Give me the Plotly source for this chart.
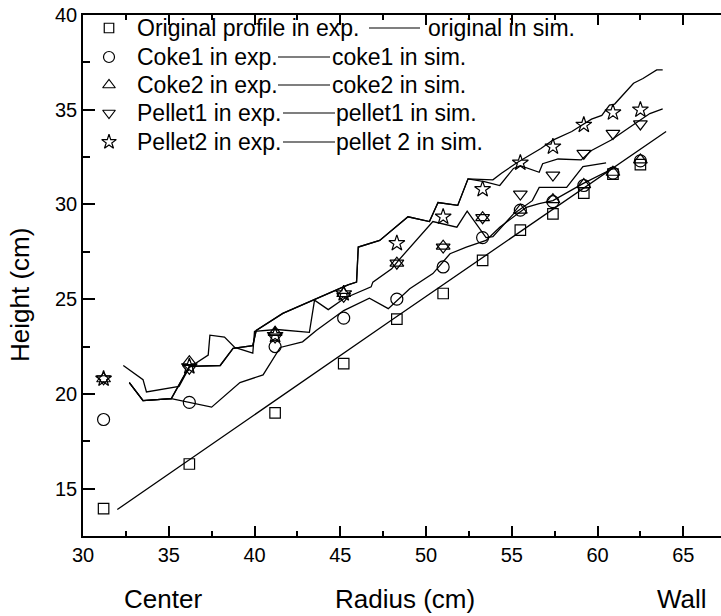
import plotly.graph_objects as go

# ---------------- data ----------------
radius_exp = [31.2, 36.2, 41.2, 45.2, 48.3, 51.0, 53.3, 55.5, 57.4, 59.2, 60.9, 62.5]
original_exp = [13.95, 16.3, 19.0, 21.6, 23.95, 25.3, 27.05, 28.65, 29.5, 30.6, 31.6, 32.1]
coke1_exp = [18.65, 19.55, 22.5, 24.0, 25.0, 26.7, 28.25, 29.7, 30.15, 31.0, 31.65, 32.3]
coke2_exp = [20.8, 21.7, 23.25, 25.3, 26.9, 27.8, 29.3, 29.7, 30.25, 31.05, 31.7, 32.35]
pellet1_exp = [20.8, 21.35, 23.0, 25.15, 26.9, 27.75, 29.3, 30.55, 31.55, 32.7, 33.75, 34.25]
pellet2_exp = [20.8, 21.45, 23.1, 25.3, 27.95, 29.35, 30.8, 32.2, 33.05, 34.2, 34.85, 35.0]

original_sim_r = [32.0, 48.0, 64.0]
original_sim_h = [13.9, 23.9, 33.85]

coke1_sim_r = [32.7, 33.5, 35.15, 37.5, 39.15, 40.5, 41.5, 42.8, 43.6, 45.2, 46.7, 47.8,
               49.05, 50.4, 51.4, 52.35, 53.5, 54.3, 55.85, 56.6, 57.4, 59.15, 60.9]
coke1_sim_h = [20.6, 19.65, 19.75, 19.3, 20.6, 21.0, 22.45, 22.75, 23.35, 24.4, 25.05, 24.5,
               25.55, 26.35, 27.4, 27.75, 28.1, 28.8, 29.85, 30.05, 30.2, 31.1, 31.9]

coke2_sim_r = [32.35, 33.5, 33.7, 35.6, 36.2, 37.3, 37.4, 38.25, 38.85, 39.9, 40.0, 41.3,
               43.2, 43.5, 44.3, 45.25, 46.8, 46.9, 48.0, 48.4, 50.4, 51.8, 52.4, 53.5,
               53.9, 55.1, 56.2, 56.6, 58.2, 59.15, 60.5]
coke2_sim_h = [21.5, 20.75, 20.1, 20.4, 21.4, 22.05, 23.1, 23.0, 22.45, 22.15, 23.3, 23.4,
               23.25, 24.95, 24.45, 25.05, 25.65, 25.9, 26.6, 27.05, 29.1, 28.8, 29.65, 28.25,
               28.3, 29.5, 30.2, 30.9, 30.9, 32.0, 32.2]

pellet1_sim_r = [32.7, 33.5, 35.15, 36.2, 38.0, 38.75, 39.9, 40.1, 41.65, 43.4, 45.45, 45.95,
                 46.05, 47.3, 48.95, 50.2, 50.7, 51.85, 52.45, 53.4, 54.3, 55.1, 55.5, 56.6,
                 56.8, 57.7, 59.05, 59.65, 60.8, 61.6, 62.45, 63.05, 63.8]
pellet1_sim_h = [20.6, 19.65, 19.75, 21.45, 21.5, 22.4, 22.55, 23.35, 24.25, 24.95, 25.75, 25.9,
                 27.75, 28.1, 29.35, 29.1, 30.1, 29.95, 31.35, 31.2, 31.0, 31.9, 32.05, 31.7,
                 32.15, 32.4, 32.35, 32.85, 33.4, 33.9, 34.45, 34.8, 35.05]

pellet2_sim_r = [32.7, 33.5, 35.15, 36.2, 38.0, 38.75, 39.9, 40.1, 41.65, 43.4, 45.45, 45.95,
                 46.05, 47.3, 48.95, 50.2, 50.7, 51.85, 52.45, 53.9, 54.4, 55.3, 56.7, 57.4,
                 58.5, 59.65, 60.25, 60.7, 61.0, 62.1, 62.65, 63.45, 63.8]
pellet2_sim_h = [20.6, 19.65, 19.75, 21.45, 21.5, 22.4, 22.55, 23.35, 24.25, 24.95, 25.75, 25.9,
                 27.75, 28.1, 29.35, 29.1, 30.1, 29.95, 31.35, 31.3, 31.65, 32.2, 32.95, 33.4,
                 33.85, 34.5, 34.7, 35.25, 35.3, 36.4, 36.65, 37.1, 37.1]

x_ticks = [30, 35, 40, 45, 50, 55, 60, 65]
y_ticks = [15, 20, 25, 30, 35, 40]

exp_series = [
    ("Original profile in exp.", original_exp, "square-open", 10.5),
    ("Coke1 in exp.", coke1_exp, "circle-open", 12),
    ("Coke2 in exp.", coke2_exp, "triangle-up-open", 12),
    ("Pellet1 in exp.", pellet1_exp, "triangle-down-open", 12),
    ("Pellet2 in exp.", pellet2_exp, "star-open", 12),
]
sim_series = [
    ("original in sim.", original_sim_r, original_sim_h),
    ("coke1 in sim.", coke1_sim_r, coke1_sim_h),
    ("coke2 in sim.", coke2_sim_r, coke2_sim_h),
    ("pellet1 in sim.", pellet1_sim_r, pellet1_sim_h),
    ("pellet 2 in sim.", pellet2_sim_r, pellet2_sim_h),
]

# ---------------- layout constants (pixels) ----------------
W, H = 721, 616
L, R, T, B = 83, 0, 15, 80
FONT = "Liberation Sans, Arial, sans-serif"

fig = go.Figure()

for name, r, h in sim_series:
    fig.add_trace(go.Scatter(x=r, y=h, mode="lines", name=name,
                             line=dict(color="black", width=1.3), showlegend=False))

for name, vals, sym, sz in exp_series:
    fig.add_trace(go.Scatter(x=radius_exp, y=vals, mode="markers", name=name,
                             marker=dict(symbol=sym, size=sz, color="black",
                                         line=dict(width=1.2, color="black")),
                             showlegend=False))

# ---------------- custom legend (pixel coordinates on hidden axes) ----------------
leg_rows_y = [28, 57, 85, 113, 142]
leg_marker_x = 109
leg_text_x = 135
leg_line = [(369, 420, 426), (278, 330, 330), (278, 330, 330), (283, 335, 334), (283, 335, 334)]
leg_font = 23

for i, (name, vals, sym, sz) in enumerate(exp_series):
    y = leg_rows_y[i]
    fig.add_trace(go.Scatter(x=[leg_marker_x], y=[y], xaxis="x2", yaxis="y2", mode="markers",
                             marker=dict(symbol=sym, size=sz - 1, color="black",
                                         line=dict(width=1.2, color="black")),
                             showlegend=False, hoverinfo="skip"))
    fig.add_annotation(x=leg_text_x, y=y, xref="x2", yref="y2", text=name, showarrow=False,
                       xanchor="left", yanchor="middle", font=dict(size=leg_font, family=FONT))
    x0, x1, xt = leg_line[i]
    fig.add_shape(type="line", x0=x0, x1=x1, y0=y, y1=y, xref="x2", yref="y2",
                  line=dict(color="black", width=1.2))
    fig.add_annotation(x=xt, y=y, xref="x2", yref="y2", text=sim_series[i][0], showarrow=False,
                       xanchor="left", yanchor="middle", font=dict(size=leg_font, family=FONT))


def px2paper(px, py):
    return (px - L) / (W - L - R), (H - B - py) / (H - T - B)


for text, px, py, ang in [("Height (cm)", 20, 295, -90), ("Radius (cm)", 405, 599, 0),
                          ("Center", 163, 599, 0), ("Wall", 682, 599, 0)]:
    xp, yp = px2paper(px, py)
    fig.add_annotation(x=xp, y=yp, xref="paper", yref="paper", text=text, showarrow=False,
                       textangle=ang, xanchor="center", yanchor="middle",
                       font=dict(size=26, family=FONT))

axis_common = dict(showgrid=False, zeroline=False, showline=True, linecolor="black",
                   linewidth=1.5, ticks="inside", tickcolor="black", tickwidth=1.5,
                   tickfont=dict(size=20, family=FONT, color="black"))

fig.update_layout(
    width=W, height=H,
    margin=dict(l=L, r=R, t=T, b=B, pad=0),
    plot_bgcolor="white", paper_bgcolor="white",
    font=dict(family=FONT, color="black"),
    showlegend=False,
    xaxis=dict(range=[30, 67.2], tickvals=x_ticks, ticklen=10, mirror="allticks",
               minor=dict(dtick=2.5, tick0=30, ticks="inside", ticklen=5, tickwidth=1.5,
                          tickcolor="black", showgrid=False),
               **axis_common),
    yaxis=dict(range=[12.5, 40], tickvals=y_ticks, ticklen=12, mirror=False,
               minor=dict(dtick=2.5, tick0=15, ticks="inside", ticklen=7, tickwidth=1.5,
                          tickcolor="black", showgrid=False),
               **axis_common),
    xaxis2=dict(range=[L, W - R], overlaying="x", anchor="y2", visible=False),
    yaxis2=dict(range=[H - B, T], overlaying="y", anchor="x2", visible=False),
)

fig.write_html("out.html")
